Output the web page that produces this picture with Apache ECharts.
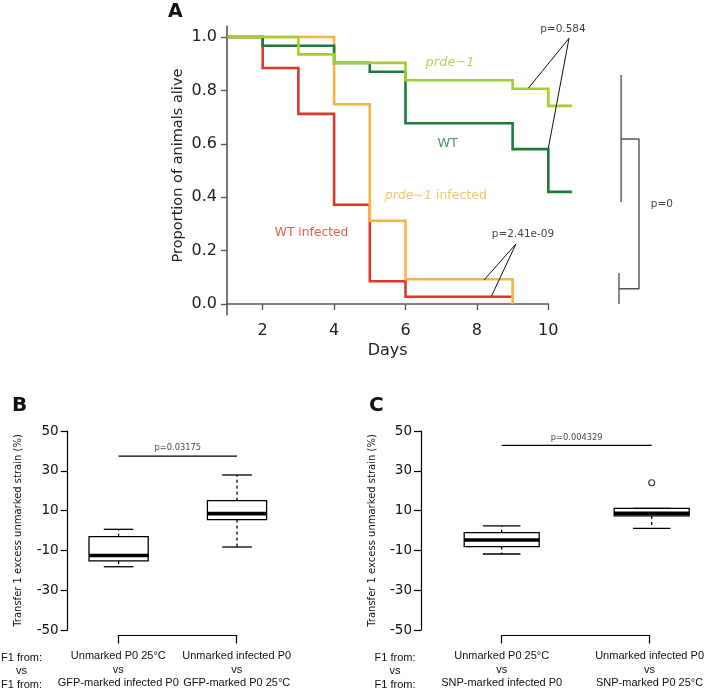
<!DOCTYPE html>
<html><head><meta charset="utf-8">
<script src="https://cdn.jsdelivr.net/npm/echarts@6/dist/echarts.min.js"></script>
<style>html,body{margin:0;padding:0;background:#fff}#c{width:707px;height:690px}</style>
</head><body><div id="c"></div>
<script>
// ---------- Panel A: Kaplan-Meier survival (day, proportion alive) ----------
const wtDays      = [1, 2, 4, 5, 6, 9, 10, 10.66];
const wtSurv      = [1, 0.967, 0.903, 0.87, 0.677, 0.58, 0.42, 0.42];
const prdeDays    = [1, 3, 4, 6, 9, 10, 10.66];
const prdeSurv    = [1, 0.935, 0.903, 0.838, 0.806, 0.742, 0.742];
const wtInfDays   = [1, 2, 3, 4, 5, 6, 9];
const wtInfSurv   = [1, 0.884, 0.712, 0.372, 0.085, 0.027, 0.027];
const prdeInfDays = [1, 4, 5, 6, 9];
const prdeInfSurv = [1, 0.748, 0.312, 0.093, 0];
const aYTicks = [0, 0.2, 0.4, 0.6, 0.8, 1.0];
const aXTicks = [2, 4, 6, 8, 10];
// annotation leader lines (data coords)
const p584Days = [9.44, 10.58, 10.0];
const p584Vals = [0.808, 0.995, 0.583];
const p241Days = [8.2, 9.095, 8.41];
const p241Vals = [0.09, 0.225, 0.03];
const brk1Days = [12.04, 12.04];               const brk1Vals = [0.858, 0.382];
const brk2Days = [12.04, 12.54, 12.54, 11.98]; const brk2Vals = [0.618, 0.618, 0.057, 0.057];
const brk3Days = [11.98, 11.98];               const brk3Vals = [0.116, 0.0];

// ---------- Panels B / C: box statistics [min, Q1, median, Q3, max] ----------
const bCats  = ['Unmarked P0 25°C\nvs\nGFP-marked infected P0', 'Unmarked infected P0\nvs\nGFP-marked P0 25°C'];
const bStats = [[-18.2, -15.3, -12.6, -3.1, 0.6], [-8.3, 5.5, 8.5, 15.0, 27.9]];
const bPval  = 37.4;
const cCats  = ['Unmarked P0 25°C\nvs\nSNP-marked infected P0', 'Unmarked infected P0\nvs\nSNP-marked P0 25°C'];
const cStats = [[-11.8, -8.1, -4.8, -1.1, 2.3], [1.1, 7.3, 8.6, 11.1, 11.1]];
const cOutliers = [[2, 24]];
const cPval  = 42.8;
const boxYTicks = [-50, -30, -10, 10, 30, 50];

const C_WT = '#1d7a3b', C_PRDE = '#a3cf2c', C_WTI = '#d73a27', C_PRDEI = '#f8b440';
const DJ = 'DejaVu Sans', LS = 'Liberation Sans';

const zip = (xs, ys) => xs.map((x, i) => [x, ys[i]]);

// grid 1 = data grid of panel A (same scale as the visible axes of grid 0, but wider so marks beyond day 10 show)
function kmSeries(name, days, surv, color, z) {
  return { type: 'line', name, xAxisIndex: 1, yAxisIndex: 1, step: 'end', data: zip(days, surv),
    showSymbol: false, symbol: 'none', clip: false, z,
    lineStyle: { color, width: 2.6, cap: 'butt', join: 'miter' } };
}
function annLine(xi, yi, days, vals, color, w) {
  return { type: 'line', xAxisIndex: xi, yAxisIndex: yi, data: zip(days, vals), symbol: 'none',
    showSymbol: false, clip: false, silent: true, z: 5,
    lineStyle: { color, width: w } };
}
function textSeries(xi, yi, items) {
  return { type: 'scatter', xAxisIndex: xi, yAxisIndex: yi, symbolSize: 0, clip: false, silent: true, z: 6,
    data: items.map(it => ({ value: [it[0], it[1]],
      label: Object.assign({ show: true, position: 'inside', formatter: it[2] }, it[3]) })) };
}
function boxRender(halfW, capHalf) {
  return function (params, api) {
    const x = api.value(0), mn = api.value(1), q1 = api.value(2), md = api.value(3), q3 = api.value(4), mx = api.value(5);
    const c = (a, b) => api.coord([a, b]);
    const ln = (p1, p2, st) => ({ type: 'line', shape: { x1: p1[0], y1: p1[1], x2: p2[0], y2: p2[1] }, style: st });
    const solid = { stroke: '#000', lineWidth: 1.3 };
    const dash = { stroke: '#000', lineWidth: 1.3, lineDash: [3, 3] };
    const tl = c(x - halfW, q3), br = c(x + halfW, q1);
    return { type: 'group', children: [
      ln(c(x, q3), c(x, mx), dash),
      ln(c(x, q1), c(x, mn), dash),
      ln(c(x - capHalf, mx), c(x + capHalf, mx), solid),
      ln(c(x - capHalf, mn), c(x + capHalf, mn), solid),
      { type: 'rect', shape: { x: tl[0], y: tl[1], width: br[0] - tl[0], height: br[1] - tl[1] },
        style: { fill: '#fff', stroke: '#000', lineWidth: 1.3 } },
      ln(c(x - halfW, md), c(x + halfW, md), { stroke: '#000', lineWidth: 3.6 })
    ] };
  };
}
function boxData(stats) { return stats.map((s, i) => [i + 1].concat(s)); }

function boxYAxis(gi) {
  return { gridIndex: gi, type: 'value', min: -50, max: 50, interval: 20,
    axisLine: { show: true, lineStyle: { color: '#000', width: 1.2 } },
    axisTick: { show: true, length: 7, customValues: boxYTicks, lineStyle: { color: '#000', width: 1.2 } },
    axisLabel: { customValues: boxYTicks, fontFamily: DJ, fontSize: 13.5, color: '#111', margin: 9 },
    splitLine: { show: false },
    name: 'Transfer 1 excess unmarked strain (%)', nameLocation: 'middle', nameGap: 44,
    nameTextStyle: { fontFamily: DJ, fontSize: 10, color: '#111' } };
}
function bracketXAxis(gi, cats) {
  return { gridIndex: gi, type: 'category', data: cats, boundaryGap: false,
    axisLine: { show: true, lineStyle: { color: '#000', width: 1.2 } },
    axisTick: { show: true, length: 8, interval: 0, lineStyle: { color: '#000', width: 1.2 } },
    axisLabel: { interval: 0, fontFamily: LS, fontSize: 11, lineHeight: 13.5, color: '#111', margin: 14, align: 'center' },
    splitLine: { show: false } };
}

const option = {
  animation: false,
  backgroundColor: '#fff',
  grid: [
    { left: 227, top: 26.3, width: 321.3, height: 288.4 },   // 0 panel A axes
    { left: 227, top: 26.3, width: 446.25, height: 288.4 },  // 1 panel A data (days 1..13.5)
    { left: 67.7, top: 431, width: 228.5, height: 199 },     // 2 panel B
    { left: 118.3, top: 600, width: 118.4, height: 37 },     // 3 panel B bracket axis
    { left: 421, top: 431, width: 275.7, height: 199 },      // 4 panel C
    { left: 501.7, top: 600, width: 150, height: 37 }        // 5 panel C bracket axis
  ],
  xAxis: [
    { gridIndex: 0, type: 'value', min: 1, max: 10,
      axisLine: { show: true, lineStyle: { color: '#555', width: 1.6 } },
      axisTick: { show: true, length: 6, customValues: aXTicks, lineStyle: { color: '#555', width: 1.4 } },
      axisLabel: { customValues: aXTicks, fontFamily: DJ, fontSize: 16, color: '#222', margin: 8 },
      splitLine: { show: false },
      name: 'Days', nameLocation: 'middle', nameGap: 28,
      nameTextStyle: { fontFamily: DJ, fontSize: 16, color: '#222' } },
    { gridIndex: 1, type: 'value', min: 1, max: 13.5, show: false },
    { gridIndex: 2, type: 'value', min: 0.57, max: 2.5, show: false },
    bracketXAxis(3, bCats),
    { gridIndex: 4, type: 'value', min: 0.462, max: 2.3, show: false },
    bracketXAxis(5, cCats)
  ],
  yAxis: [
    { gridIndex: 0, type: 'value', min: -0.04, max: 1.04,
      axisLine: { show: true, lineStyle: { color: '#555', width: 1.6 } },
      axisTick: { show: true, length: 6, customValues: aYTicks, lineStyle: { color: '#555', width: 1.4 } },
      axisLabel: { customValues: aYTicks, formatter: v => v.toFixed(1), fontFamily: DJ, fontSize: 16, color: '#222', margin: 10 },
      splitLine: { show: false },
      name: 'Proportion of animals alive', nameLocation: 'middle', nameGap: 41,
      nameTextStyle: { fontFamily: DJ, fontSize: 14.5, color: '#222', padding: [0, 0, 0, 10] } },
    { gridIndex: 1, type: 'value', min: -0.04, max: 1.04, show: false },
    boxYAxis(2),
    { gridIndex: 3, type: 'value', show: false },
    boxYAxis(4),
    { gridIndex: 5, type: 'value', show: false }
  ],
  series: [
    kmSeries('WT infected', wtInfDays, wtInfSurv, C_WTI, 2),
    kmSeries('prde-1 infected', prdeInfDays, prdeInfSurv, C_PRDEI, 3),
    kmSeries('WT', wtDays, wtSurv, C_WT, 4),
    kmSeries('prde-1', prdeDays, prdeSurv, C_PRDE, 5),
    annLine(1, 1, p584Days, p584Vals, '#111', 1),
    annLine(1, 1, p241Days, p241Vals, '#111', 1),
    annLine(1, 1, brk1Days, brk1Vals, '#555', 1.4),
    annLine(1, 1, brk2Days, brk2Vals, '#555', 1.4),
    annLine(1, 1, brk3Days, brk3Vals, '#555', 1.4),
    textSeries(1, 1, [
      [10.41, 1.03, 'p=0.584', { fontFamily: DJ, fontSize: 10.5, color: '#111' }],
      [9.29, 0.262, 'p=2.41e-09', { fontFamily: DJ, fontSize: 10.5, color: '#111' }],
      [13.18, 0.375, 'p=0', { fontFamily: DJ, fontSize: 10.5, color: '#111' }],
      [7.25, 0.905, 'prde\u22121', { fontFamily: DJ, fontSize: 13, fontStyle: 'italic', color: '#9cc83a' }],
      [7.18, 0.602, 'WT', { fontFamily: DJ, fontSize: 12.8, color: C_WT }],
      [6.85, 0.404, '{i|prde\u22121} infected', { fontFamily: DJ, fontSize: 12.5, color: C_PRDEI,
        rich: { i: { fontFamily: DJ, fontSize: 12.5, fontStyle: 'italic', color: C_PRDEI } } }],
      [3.37, 0.265, 'WT infected', { fontFamily: DJ, fontSize: 12.3, color: C_WTI }]
    ]),
    // Panel B
    { type: 'custom', xAxisIndex: 2, yAxisIndex: 2, renderItem: boxRender(0.25, 0.125),
      encode: { x: 0, y: [1, 2, 3, 4, 5] }, data: boxData(bStats), z: 3 },
    annLine(2, 2, [1, 2], [bPval, bPval], '#000', 1.2),
    textSeries(2, 2, [[1.5, 41.6, 'p=0.03175', { fontFamily: DJ, fontSize: 8.3, color: '#111' }]]),
    // Panel C
    { type: 'custom', xAxisIndex: 4, yAxisIndex: 4, renderItem: boxRender(0.25, 0.125),
      encode: { x: 0, y: [1, 2, 3, 4, 5] }, data: boxData(cStats), z: 3 },
    { type: 'scatter', xAxisIndex: 4, yAxisIndex: 4, data: cOutliers, symbol: 'circle', symbolSize: 6,
      itemStyle: { color: '#fff', borderColor: '#000', borderWidth: 1.1 }, z: 4 },
    annLine(4, 4, [1, 2], [cPval, cPval], '#000', 1.2),
    textSeries(4, 4, [[1.5, 46.8, 'p=0.004329', { fontFamily: DJ, fontSize: 8.3, color: '#111' }]])
  ],
  graphic: [
    { type: 'text', left: 168, top: 3, style: { text: 'A', font: 'bold 19px "DejaVu Sans"', fill: '#111' } },
    { type: 'text', left: 12, top: 396, style: { text: 'B', font: 'bold 20px "DejaVu Sans"', fill: '#111' } },
    { type: 'text', left: 369, top: 396, style: { text: 'C', font: 'bold 20px "DejaVu Sans"', fill: '#111' } },
    { type: 'text', x: 21.5, y: 651, style: { text: 'F1 from:\nvs\nF1 from:', textAlign: 'center', textVerticalAlign: 'top',
      font: '11px "Liberation Sans"', lineHeight: 13.5, fill: '#111' } },
    { type: 'text', x: 395, y: 651, style: { text: 'F1 from:\nvs\nF1 from:', textAlign: 'center', textVerticalAlign: 'top',
      font: '11px "Liberation Sans"', lineHeight: 13.5, fill: '#111' } }
  ]
};
const chart = echarts.init(document.getElementById('c'), null, { renderer: 'canvas' });
chart.setOption(option);
</script></body></html>
